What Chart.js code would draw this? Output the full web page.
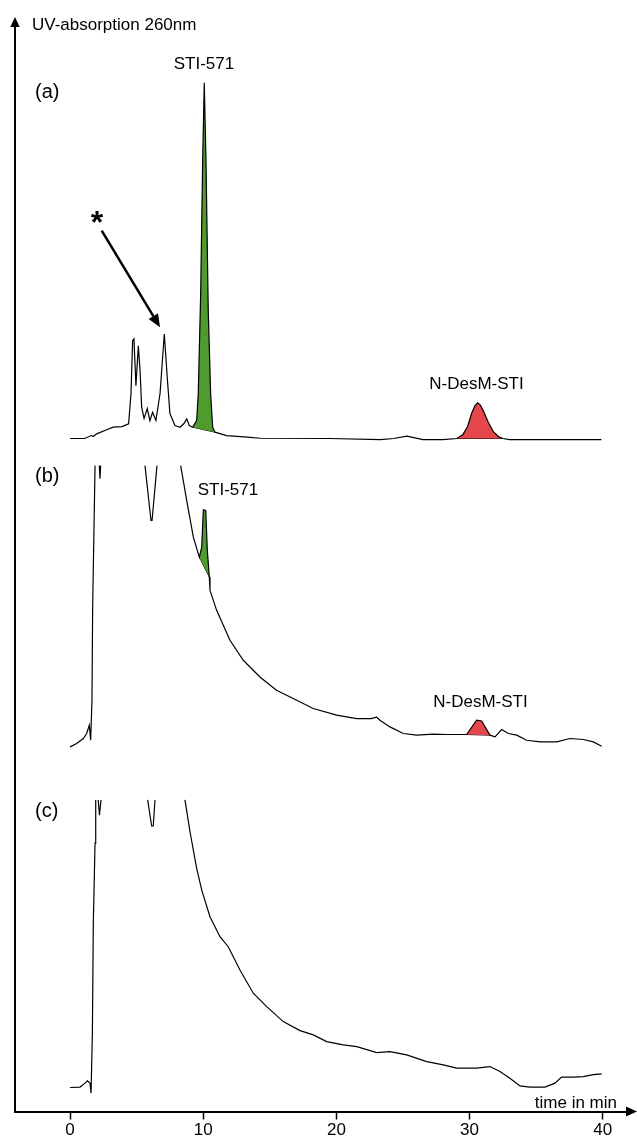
<!DOCTYPE html>
<html lang="en">
<head>
<meta charset="utf-8">
<title>UV chromatograms STI-571</title>
<script src="https://cdn.jsdelivr.net/npm/chart.js@4.4.1/dist/chart.umd.min.js"></script>
<style>
  html, body { margin: 0; padding: 0; background: #fff; }
  #wrap { width: 637px; height: 1139px; position: relative; }
</style>
</head>
<body>
<div id="wrap"><canvas id="graficoCromatograma"></canvas></div>
<script>
// [time in min, signal above the trace baseline]; null = off scale (clipped)
const traceA = [
  [0, 0], [1.1, 0], [1.6, 0.27], [1.75, 0.18], [2.0, 0.43], [2.75, 0.8], [3.25, 1.04], [3.9, 1.1], [4.4, 1.35],
  [4.58, 4.14], [4.7, 9.0], [4.8, 9.17], [4.95, 4.87], [5.13, 8.55], [5.26, 6.25], [5.38, 2.88], [5.56, 1.84],
  [5.8, 2.76], [6.0, 1.65], [6.2, 2.42], [6.45, 1.65], [6.76, 4.14], [7.08, 9.63], [7.3, 5.64], [7.5, 2.3],
  [7.88, 1.19], [8.26, 1.04], [8.56, 1.38], [8.76, 1.81], [8.96, 1.19], [9.21, 1.04], [9.51, 1.65], [9.63, 4.14],
  [9.81, 13.34], [9.96, 25.58], [10.08, 32.78], [10.21, 25.58], [10.38, 11.77], [10.56, 4.14], [10.71, 1.04],
  [10.89, 0.58], [11.76, 0.27], [13.3, 0.12], [14.3, 0.02], [19.5, 0], [23.3, -0.1], [24.3, 0], [25.3, 0.21],
  [26.5, -0.1], [28.0, -0.1], [29.05, 0], [29.5, 0.36], [29.85, 1.1], [30.15, 2.3], [30.4, 3.0], [30.6, 3.28],
  [30.8, 3.1], [31.05, 2.5], [31.4, 1.5], [31.8, 0.6], [32.2, 0.15], [32.5, 0], [33.0, -0.1], [39.9, -0.1]
];
const traceB = [
  [0, 0.09], [0.5, 0.4], [1.0, 0.86], [1.25, 1.32], [1.45, 2.09], [1.55, 0.7], [1.65, 4.39], [1.7, 12.94], [1.88, 26],
  [2.0, null],
  [2.2, 26], [2.25, 24.8], [2.3, 26],
  [4.0, null],
  [5.63, 26], [6.08, 20.95], [6.16, 20.95], [6.53, 26],
  [7.5, null],
  [8.31, 26], [8.76, 22.79], [9.26, 19.41], [9.71, 17.57], [9.89, 18.49], [10.01, 21.93], [10.19, 21.87],
  [10.31, 18.19], [10.46, 15.73], [10.51, 14.51], [11.01, 12.67], [12.01, 9.91], [13.01, 8.07], [14.26, 6.53],
  [15.5, 5.31], [16.76, 4.54], [18.26, 3.62], [20.02, 3.01], [21.52, 2.7], [22.6, 2.7], [23.03, 2.82],
  [23.27, 2.55], [24.02, 1.93], [25.02, 1.32], [26.03, 1.17], [27.27, 1.26], [28.28, 1.23], [29.78, 1.23],
  [30.53, 2.55], [30.91, 2.48], [31.53, 1.17], [31.91, 1.01], [32.41, 1.69], [32.91, 1.32], [33.54, 1.17],
  [34.29, 0.7], [35.29, 0.55], [36.54, 0.55], [37.54, 0.86], [38.54, 0.77], [39.29, 0.55], [39.92, 0.15]
];
const traceC = [
  [0, 0.01], [0.75, 0.05], [1.13, 0.41], [1.3, 0.62], [1.5, 0.41], [1.58, -0.51], [1.68, 5.01], [1.75, 15.14],
  [1.88, 22.53], [1.93, 26.5],
  [2.0, null],
  [2.12, 26.5], [2.21, 25.1], [2.33, 26.5],
  [4.0, null],
  [5.83, 26.5], [6.13, 24.1], [6.25, 24.1], [6.38, 26.5],
  [7.5, null],
  [8.63, 26.5], [9.01, 23.57], [9.51, 20.2], [9.89, 18.2], [10.51, 15.74], [11.26, 13.9], [11.88, 12.98],
  [12.76, 10.84], [13.76, 8.7], [14.77, 7.46], [16.01, 6.08], [17.27, 5.25], [18.27, 4.86], [19.27, 4.24],
  [20.52, 3.94], [21.53, 3.78], [23.03, 3.23], [24.02, 3.32], [25.28, 3.02], [26.78, 2.4], [28.03, 2.1],
  [29.03, 1.79], [30.53, 1.79], [31.53, 1.94], [32.28, 1.48], [33.03, 0.87], [33.78, 0.16], [34.53, 0.05],
  [35.66, 0.05], [36.41, 0.41], [36.91, 0.97], [37.8, 0.97], [38.54, 1.02], [39.29, 1.2], [39.92, 1.27]
];

// vertical offset of each trace on the shared absorption axis
const offsets = { a: 62, b: 33.5, c: 2.2 };
const xTicks = [0, 10, 20, 30, 40];

// integrated peak windows [start, end] in min
const stiWindowA = [9.21, 10.89];
const ndesmWindowA = [29.05, 32.5];
const stiWindowB = [9.71, 10.46];
const ndesmWindowB = [29.78, 31.53];

const panelLabels = ["(a)", "(b)", "(c)"];
const peakLabels = ["STI-571", "N-DesM-STI"];

const FONT = "'Liberation Sans', Arial, Helvetica, sans-serif";
const GREEN = "#4f9b2e";
const RED = "#e5474c";

document.addEventListener("DOMContentLoaded", () => {
  Chart.defaults.font.family = FONT;

  const toPoints = (trace, off) =>
    trace.map(([t, s]) => ({ x: t, y: s === null ? null : s + off }));

  const traces = { a: traceA, b: traceB, c: traceC };

  function peakDatasets(key, win, color) {
    const pts = toPoints(traces[key], offsets[key]).filter(
      (p) => p.y !== null && p.x >= win[0] && p.x <= win[1]
    );
    return [
      {
        data: pts,
        borderWidth: 0,
        borderColor: "rgba(0,0,0,0)",
        backgroundColor: color,
        fill: "+1",
        pointRadius: 0,
      },
      {
        data: [pts[0], pts[pts.length - 1]],
        borderWidth: 1,
        borderColor: "#000",
        fill: false,
        pointRadius: 0,
      },
    ];
  }

  const lineDs = (key) => ({
    data: toPoints(traces[key], offsets[key]),
    borderColor: "#000",
    borderWidth: 1.2,
    fill: false,
    pointRadius: 0,
    spanGaps: false,
  });

  // labels in data coordinates: time, trace, signal level
  const textos = [
    { text: panelLabels[0], trace: "a", t: -2.63, s: 31.4, size: 20, align: "left" },
    { text: panelLabels[1], trace: "b", t: -2.63, s: 24.5, size: 20, align: "left" },
    { text: panelLabels[2], trace: "c", t: -2.63, s: 24.9, size: 20, align: "left" },
    { text: peakLabels[0], trace: "a", t: 10.06, s: 34.0, size: 17, align: "center" },
    { text: peakLabels[1], trace: "a", t: 30.52, s: 4.6, size: 17, align: "center" },
    { text: peakLabels[0], trace: "b", t: 11.86, s: 23.25, size: 17, align: "center" },
    { text: peakLabels[1], trace: "b", t: 30.82, s: 3.74, size: 17, align: "center" },
  ];

  const decoracaoPlugin = {
    id: "decoracao",
    afterDraw(chart) {
      const { ctx, chartArea: ca, scales: { x, y } } = chart;
      const px = (t) => x.getPixelForValue(t);
      const py = (key, s) => y.getPixelForValue(offsets[key] + s);
      ctx.save();
      ctx.fillStyle = "#000";
      ctx.strokeStyle = "#000";

      // axis arrowheads
      ctx.beginPath();
      ctx.moveTo(ca.left, ca.top - 9);
      ctx.lineTo(ca.left - 4.7, ca.top + 1);
      ctx.lineTo(ca.left + 4.7, ca.top + 1);
      ctx.closePath();
      ctx.fill();
      ctx.beginPath();
      ctx.moveTo(ca.right + 10, ca.bottom);
      ctx.lineTo(ca.right - 1, ca.bottom - 5);
      ctx.lineTo(ca.right - 1, ca.bottom + 5);
      ctx.closePath();
      ctx.fill();

      ctx.textBaseline = "alphabetic";
      ctx.font = `17px ${FONT}`;
      ctx.textAlign = "left";
      ctx.fillText("UV-absorption 260nm", ca.left + 17, ca.top + 3.5);
      ctx.textAlign = "right";
      ctx.fillText("time in min", ca.right - 10, ca.bottom - 4);

      textos.forEach((l) => {
        ctx.font = `${l.size}px ${FONT}`;
        ctx.textAlign = l.align;
        ctx.fillText(l.text, px(l.t), py(l.trace, l.s));
      });

      // asterisk and arrow to the marked peak in (a)
      ctx.font = `bold 32px ${FONT}`;
      ctx.textAlign = "center";
      ctx.fillText("*", px(2.03), py("a", 18.9));
      const x0 = px(2.38), y0 = py("a", 19.14);
      const x1 = px(6.76), y1 = py("a", 10.24);
      const ang = Math.atan2(y1 - y0, x1 - x0);
      const head = 13;
      ctx.lineWidth = 2.5;
      ctx.beginPath();
      ctx.moveTo(x0, y0);
      ctx.lineTo(x1 - head * Math.cos(ang), y1 - head * Math.sin(ang));
      ctx.stroke();
      ctx.beginPath();
      ctx.moveTo(x1, y1);
      ctx.lineTo(x1 - head * Math.cos(ang) + 5.5 * Math.sin(ang), y1 - head * Math.sin(ang) - 5.5 * Math.cos(ang));
      ctx.lineTo(x1 - head * Math.cos(ang) - 5.5 * Math.sin(ang), y1 - head * Math.sin(ang) + 5.5 * Math.cos(ang));
      ctx.closePath();
      ctx.fill();
      ctx.restore();
    },
  };

  const ctxCromatograma = document
    .getElementById("graficoCromatograma")
    .getContext("2d");

  new Chart(ctxCromatograma, {
    type: "line",
    data: {
      datasets: [
        lineDs("a"),
        lineDs("b"),
        lineDs("c"),
        ...peakDatasets("a", stiWindowA, GREEN),
        ...peakDatasets("a", ndesmWindowA, RED),
        ...peakDatasets("b", stiWindowB, GREEN),
        ...peakDatasets("b", ndesmWindowB, RED),
      ],
    },
    options: {
      responsive: true,
      maintainAspectRatio: false,
      animation: false,
      layout: { padding: { left: 15, right: 10, top: 26, bottom: 0 } },
      plugins: { legend: { display: false }, tooltip: { enabled: false } },
      elements: { line: { tension: 0 }, point: { radius: 0 } },
      scales: {
        x: {
          type: "linear",
          min: -4.13,
          max: 41.82,
          afterBuildTicks: (scale) => {
            scale.ticks = xTicks.map((v) => ({ value: v }));
          },
          afterFit: (scale) => {
            scale.height = 27.5;
          },
          grid: {
            display: true,
            drawOnChartArea: false,
            drawTicks: true,
            tickLength: 8,
            tickColor: "#000",
            tickWidth: 1.5,
          },
          border: { display: true, color: "#000", width: 2 },
          ticks: {
            color: "#000",
            font: { size: 17, lineHeight: 1 },
            padding: 2,
            maxRotation: 0,
            autoSkip: false,
          },
        },
        y: {
          type: "linear",
          min: 0,
          max: 100,
          afterFit: (scale) => {
            scale.width = 0;
          },
          ticks: { display: false },
          grid: { display: false, drawTicks: false },
          border: { display: true, color: "#000", width: 2 },
        },
      },
    },
    plugins: [decoracaoPlugin],
  });
});
</script>
</body>
</html>
